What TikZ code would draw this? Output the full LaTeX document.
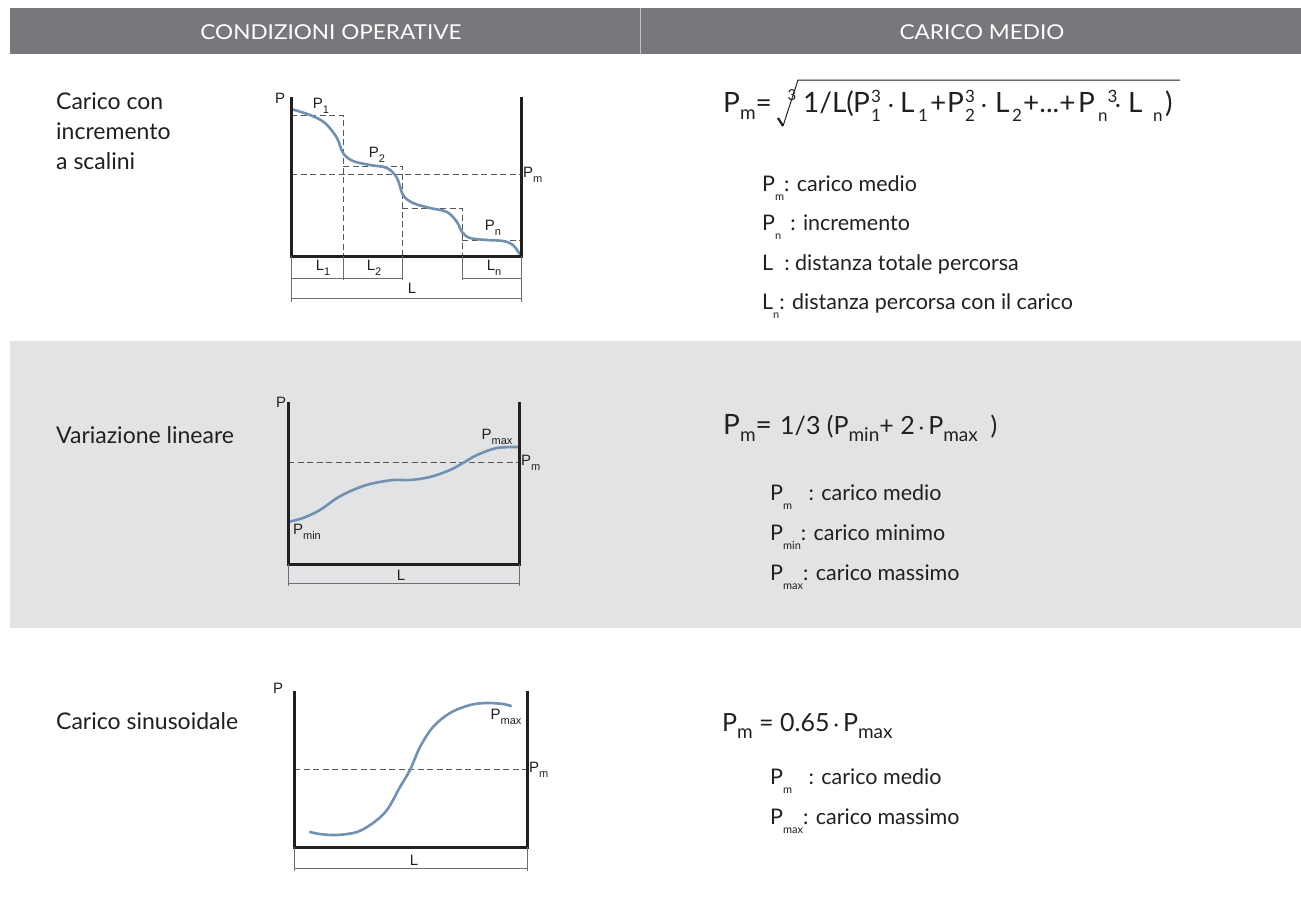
\documentclass[tikz,border=0pt]{standalone}
\usepackage{fontspec}
\setmainfont{Lato}
\newfontfamily\arialf{Liberation Sans}
\definecolor{headgray}{HTML}{77787B}
\definecolor{bandgray}{HTML}{E2E3E5}
\definecolor{txt}{HTML}{231F20}
\definecolor{axisc}{HTML}{231F20}
\definecolor{curvec}{HTML}{7191B3}
\definecolor{dashc}{HTML}{58585A}
\definecolor{dimc}{HTML}{6D6E71}
\newcommand\lsub[1]{\raisebox{-0.42em}{\fontsize{11}{11}\selectfont #1}}
\newcommand\fsub[1]{\raisebox{-0.28em}{\fontsize{19}{19}\selectfont #1}}
\newcommand\gsub[1]{\raisebox{-0.3em}{\fontsize{11}{11}\selectfont #1}}
\newcommand\bx[2]{\makebox[#1pt][l]{#2}}
\newcommand\fsup[1]{\raisebox{0.34em}{\fontsize{17}{17}\selectfont #1}}
\newcommand\fsb[1]{\raisebox{-0.33em}{\fontsize{17}{17}\selectfont #1}}
\newcommand\fss[2]{\makebox[0pt][l]{\fsup{#1}}\fsb{#2}}
\newcommand\cdt{{\fontsize{22}{22}\selectfont·}}
\begin{document}
\begin{tikzpicture}[x=1pt,y=-1pt,
  headtxt/.style={text=white,font=\fontsize{20.5}{20.5}\selectfont,inner sep=0},
  lbl/.style={text=txt,font=\fontsize{23}{23}\selectfont,inner sep=0,anchor=base west},
  leg/.style={text=txt,font=\fontsize{21.5}{21.5}\selectfont,inner sep=0,anchor=base west},
  fbig/.style={text=txt,font=\fontsize{28}{28}\selectfont,inner sep=0,anchor=base west},
  fmid/.style={text=txt,font=\fontsize{25}{25}\selectfont,inner sep=0,anchor=base west},
  glbl/.style={text=txt,font=\arialf\fontsize{15}{15}\selectfont,inner sep=0},
  axis/.style={draw=axisc,line width=3pt,line join=miter},
  curve/.style={draw=curvec,line width=2.6pt,line cap=round},
  dline/.style={draw=dashc,line width=0.9pt,dash pattern=on 6pt off 3.5pt},
  dim/.style={draw=dimc,line width=0.7pt},
  radical/.style={draw=txt,line width=1pt}]
\useasboundingbox (0,0) rectangle (1301,911);
\fill[white] (0,0) rectangle (1301,911);
% header
\fill[headgray] (10,8) rectangle (1301,54);
\draw[white!55!headgray,line width=1pt] (640,8) -- (640,54);
\node[headtxt] (h1) at (331,32) {\scalebox{1.1}[1]{CONDIZIONI OPERATIVE}};
\node[headtxt] (h2) at (982,32) {\scalebox{1.1}[1]{CARICO MEDIO}};
% band
\fill[bandgray] (10,341) rectangle (1301,628);

% ---------- row 1 ----------
\node[lbl] (t1a) at (56,109) {Carico con};
\node[lbl] (t1b) at (56,139.5) {incremento};
\node[lbl] (t1c) at (56,169) {a scalini};

\coordinate (a1tl) at (291,97);
\coordinate (a1bl) at (291,256);
\coordinate (a1br) at (521,256);
\coordinate (a1tr) at (521,97);
% dashed steps
\draw[dline] (291,115) -- (343,115) -- (343,256);
\draw[dline] (343,166) -- (402,166) -- (402,256);
\draw[dline] (402,208) -- (462,208) -- (462,256);
\draw[dline] (462,240) -- (521,240);
\draw[dline] (291,174) -- (521,174);
% curve
\draw[curve] plot[smooth,tension=0.55] coordinates {(291,109) (310,115) (325,123) (337,138) (343,153) (353,161) (370,165) (387,168) (397,178) (403,195) (413,203) (430,208) (447,212) (457,222) (462,232) (470,238) (487,240) (503,241) (513,245) (521,256)};
\draw[axis] (a1tl) -- (a1bl) -- (a1br) -- (a1tr);
% dimensions
\draw[dim] (291,256) -- (291,302);
\draw[dim] (521,256) -- (521,302);
\draw[dim] (343,256) -- (343,280);
\draw[dim] (402,256) -- (402,280);
\draw[dim] (462,256) -- (462,280);
\draw[dim] (291,278) -- (343,278);
\draw[dim] (343,278) -- (402,278);
\draw[dim] (462,278) -- (521,278);
\draw[dim] (291,298) -- (521,298);
% labels
\node[glbl] (g1p) at (280,98) {P};
\node[glbl] (g1p1) at (321,106) {P\gsub{1}};
\node[glbl] (g1p2) at (377,155) {P\gsub{2}};
\node[glbl] (g1pn) at (493,228) {P\gsub{n}};
\node[glbl,anchor=west] (g1pm) at (523,175) {P\gsub{m}};
\node[glbl] (g1l1) at (323,268) {L\gsub{1}};
\node[glbl] (g1l2) at (374,268) {L\gsub{2}};
\node[glbl] (g1ln) at (494,268) {L\gsub{n}};
\node[glbl] (g1l) at (412,288) {L};

% formula 1
\node[fbig] (f1a) at (723,112) {P\fsub{m}=};
\draw[radical,line width=2.2pt] (778,118) -- (783,126);
\draw[radical] (783,126) -- (798,80) -- (1180,80);
\node[text=txt,font=\fontsize{15}{15}\selectfont,inner sep=0] (f1r) at (792,95) {3};
\node[fbig] (f1b) at (803,112) {\bx{50}{1/L(}\bx{18}{P}\bx{17}{\fss{3}{1}}\bx{12}{\cdt}\bx{18}{L}\bx{12}{\fsb{1}}\bx{17}{+}\bx{18}{P}\bx{16}{\fss{3}{2}}\bx{14}{\cdt}\bx{17}{L}\bx{11}{\fsb{2}}\bx{55}{+...+}\bx{20}{P}\bx{17}{\fsb{n}\fsup{3}}\bx{13}{\cdt}\bx{25}{L}\bx{12}{\fsb{n}})};
% legend 1
\node[leg] (l1a) at (762,191) {P\lsub{m}: carico medio};
\node[leg] (l1b) at (762,230.5) {P\lsub{n}\ \,: incremento};
\node[leg] (l1c) at (762,270) {L\ \ : distanza totale percorsa};
\node[leg] (l1d) at (762,309.5) {L\lsub{n}: distanza percorsa con il carico};

% ---------- row 2 ----------
\node[lbl] (t2) at (56,443) {Variazione lineare};
\coordinate (a2tl) at (288,402);
\coordinate (a2bl) at (288,564);
\coordinate (a2br) at (519,564);
\coordinate (a2tr) at (519,402);
\draw[dline] (288,462) -- (519,462);
\draw[curve] plot[smooth,tension=0.55] coordinates {(288,522) (303,518) (320,510) (337,498) (353,490) (370,484) (393,480) (410,480) (430,477) (450,470) (463,463) (477,455) (497,448) (519,447)};
\draw[axis] (a2tl) -- (a2bl) -- (a2br) -- (a2tr);
\draw[dim] (288,564) -- (288,586);
\draw[dim] (519,564) -- (519,586);
\draw[dim] (288,583) -- (519,583);
\node[glbl] (g2p) at (281,402) {P};
\node[glbl] (g2pmax) at (497,437) {P\gsub{max}};
\node[glbl,anchor=west] (g2pm) at (521,463) {P\gsub{m}};
\node[glbl] (g2pmin) at (307,532) {P\gsub{min}};
\node[glbl] (g2l) at (401,575) {L};
% formula 2
\node[fbig] (f2a) at (723,434) {P\fsub{m}=};
\node[fmid] (f2b) at (780,434) {1/3 (P\fsub{min}+ 2\,{\fontsize{20}{20}\selectfont·}\,P\fsub{max}\ \ )};
% legend 2
\node[leg] (l2a) at (770,500) {P\lsub{m}\ \ \ : carico medio};
\node[leg] (l2b) at (770,540) {P\lsub{min}: carico minimo};
\node[leg] (l2c) at (770,580) {P\lsub{max}: carico massimo};

% ---------- row 3 ----------
\node[lbl] (t3) at (56,729) {Carico sinusoidale};
\coordinate (a3tl) at (294,691);
\coordinate (a3bl) at (294,847);
\coordinate (a3br) at (527,847);
\coordinate (a3tr) at (527,691);
\draw[dline] (294,769) -- (527,769);
\draw[curve] plot[smooth,tension=0.55] coordinates {(310,832) (320,834) (337,835) (357,832) (373,823) (387,810) (400,787) (410,770) (420,747) (433,727) (450,713) (470,705) (487,703) (503,704) (511,706)};
\draw[axis] (a3tl) -- (a3bl) -- (a3br) -- (a3tr);
\draw[dim] (294,847) -- (294,871);
\draw[dim] (527,847) -- (527,871);
\draw[dim] (294,868) -- (527,868);
\node[glbl] (g3p) at (278,688) {P};
\node[glbl] (g3pmax) at (506,717) {P\gsub{max}};
\node[glbl,anchor=west] (g3pm) at (529,770) {P\gsub{m}};
\node[glbl] (g3l) at (414,860) {L};
% formula 3
\node[fmid] (f3) at (722,731) {P\fsub{m} = 0.65\,{\fontsize{20}{20}\selectfont·}\,P\fsub{max}};
% legend 3
\node[leg] (l3a) at (770,784) {P\lsub{m}\ \ \ : carico medio};
\node[leg] (l3b) at (770,824) {P\lsub{max}: carico massimo};
\end{tikzpicture}
\end{document}
